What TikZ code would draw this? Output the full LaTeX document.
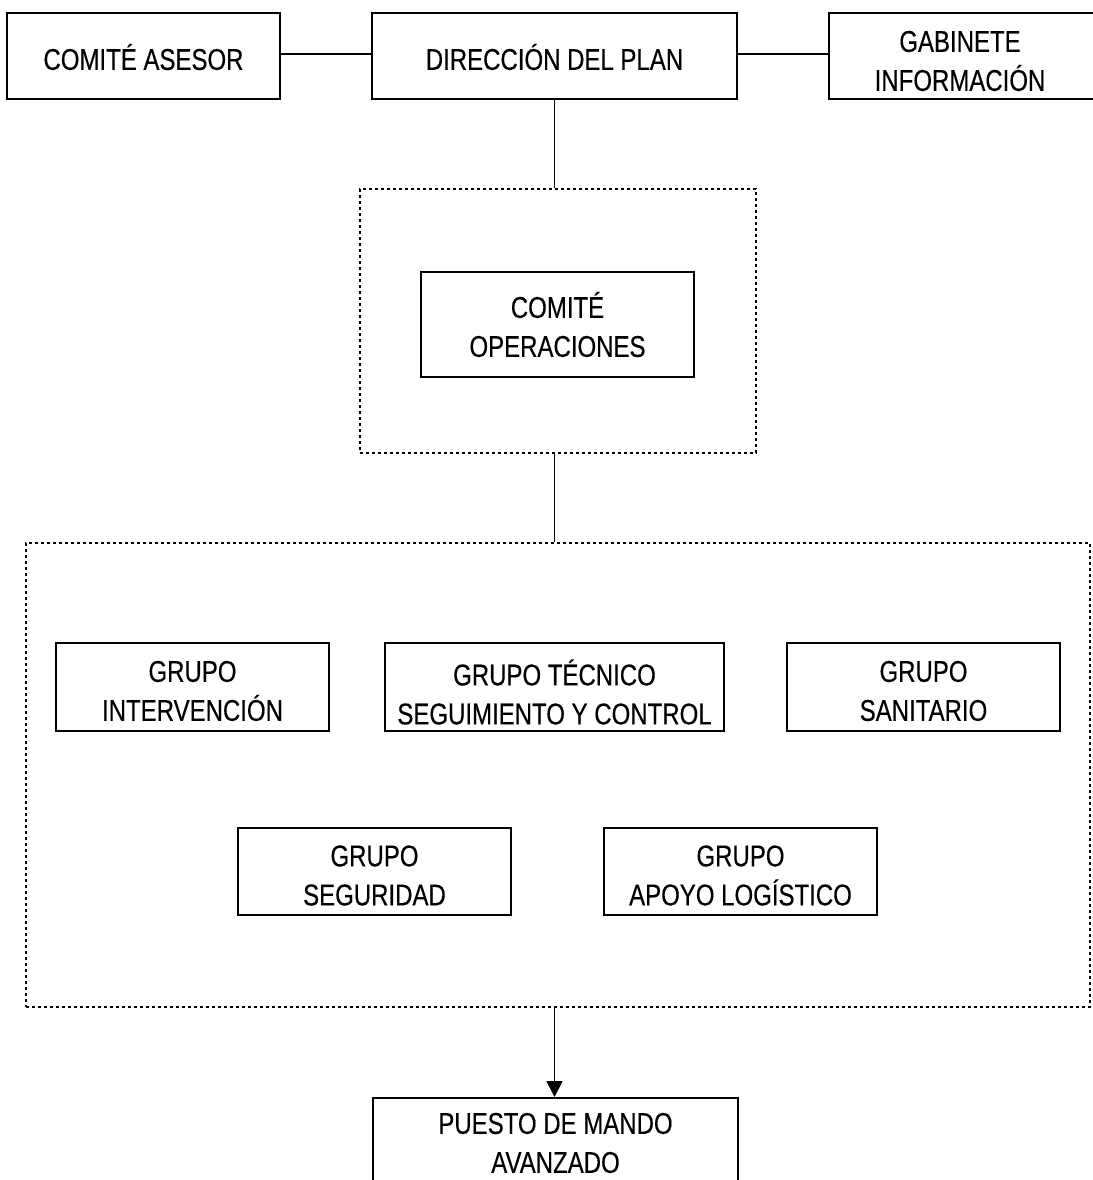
\documentclass[tikz,border=0pt]{standalone}
\usepackage{fontspec}
\setmainfont{Liberation Sans}[FakeStretch=0.8,FakeBold=0.3]
\usetikzlibrary{arrows.meta}
\begin{document}
\begin{tikzpicture}[x=1pt,y=-1pt,
  box/.style={draw,line width=2pt,rectangle,inner sep=0pt},
  lbl/.style={inner sep=0pt,align=center,font=\fontsize{30}{39}\selectfont},
  dotbox/.style={draw,line width=1.8pt,dash pattern=on 3pt off 3pt,rectangle,inner sep=0pt},
  conn/.style={line width=1.8pt}]
\useasboundingbox (0,0) rectangle (1092,1180);
% top row
\node[box,minimum width=273pt,minimum height=86pt] (asesor) at (143.5,56) {};
\node[lbl] (asesorT) at ([yshift=-1pt]asesor.center) {COMITÉ ASESOR};
\node[box,minimum width=365pt,minimum height=86pt] (direccion) at (554.5,56) {};
\node[lbl] (direccionT) at ([yshift=-1pt]direccion.center) {DIRECCIÓN DEL PLAN};
\node[box,minimum width=275pt,minimum height=86pt] (gabinete) at (966.5,56) {};
\node[lbl] (gabineteT) at ([yshift=-5pt]960,56) {GABINETE\\INFORMACIÓN};
% operaciones
\node[dotbox,minimum width=396pt,minimum height=264pt] (ops) at (558,321) {};
\node[box,minimum width=273pt,minimum height=105pt] (comite) at (557.5,324.5) {};
\node[lbl] (comiteT) at (comite.center) {COMITÉ\\OPERACIONES};
% grupos
\node[dotbox,minimum width=1064pt,minimum height=464pt] (grupos) at (558,775) {};
\node[box,minimum width=273pt,minimum height=88pt] (interv) at (192.5,687) {};
\node[lbl] (intervT) at ([yshift=-4pt]interv.center) {GRUPO\\INTERVENCIÓN};
\node[box,minimum width=339pt,minimum height=88pt] (tecnico) at (554.5,687) {};
\node[lbl] (tecnicoT) at ([yshift=-5pt]tecnico.center) {GRUPO TÉCNICO\\SEGUIMIENTO Y CONTROL};
\node[box,minimum width=273pt,minimum height=88pt] (sanit) at (923.5,687) {};
\node[lbl] (sanitT) at ([yshift=-4pt]sanit.center) {GRUPO\\SANITARIO};
\node[box,minimum width=273pt,minimum height=87pt] (segur) at (374.5,871.5) {};
\node[lbl] (segurT) at ([yshift=-4pt]segur.center) {GRUPO\\SEGURIDAD};
\node[box,minimum width=273pt,minimum height=87pt] (apoyo) at (740.5,871.5) {};
\node[lbl] (apoyoT) at ([yshift=-4pt]apoyo.center) {GRUPO\\APOYO LOGÍSTICO};
% puesto
\node[box,minimum width=365pt,minimum height=92pt] (puesto) at (555.5,1144) {};
\node[lbl] (puestoT) at ([yshift=1pt]puesto.center) {PUESTO DE MANDO\\AVANZADO};
% connectors
\draw[conn] ([yshift=2pt]asesor.east) -- ([yshift=2pt]direccion.west);
\draw[conn] ([yshift=2pt]direccion.east) -- ([yshift=2pt]gabinete.west);
\draw[conn] (direccion.south) -- (direccion.south |- ops.north);
\draw[conn] (direccion.south |- ops.south) -- (direccion.south |- grupos.north);
\draw[conn,-{Triangle[length=16pt,width=16pt]}] (direccion.south |- grupos.south) -- (direccion.south |- puesto.north);
\end{tikzpicture}
\end{document}
